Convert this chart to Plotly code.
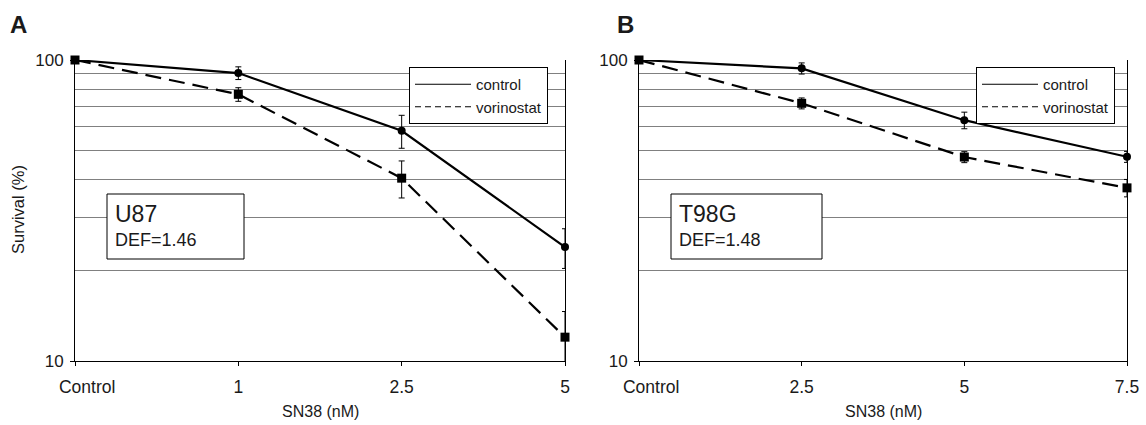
import plotly.graph_objects as go

# ---------------- data ----------------
cats_a = ["Control", "1", "2.5", "5"]
ctrl_a = [100, 90.5, 58.2, 23.9]
ctrl_a_err = [0, 4.4, 7.3, 3.6]
vor_a = [100, 76.9, 40.5, 12.0]
vor_a_err = [0, 4.0, 5.7, 2.6]

cats_b = ["Control", "2.5", "5", "7.5"]
ctrl_b = [100, 93.8, 63.1, 47.7]
ctrl_b_err = [0, 4.0, 4.0, 2.0]
vor_b = [100, 71.8, 47.6, 37.6]
vor_b_err = [0, 3.0, 2.0, 2.5]

grid_vals = [20, 30, 40, 50, 60, 70, 80, 90, 100]

W, H = 1146, 425
FONT = "Liberation Sans, Arial, Helvetica, sans-serif"
TXT = "#1a1a1a"
PAD = "\u00a0" * 5  # the first category label sits right of its tick in the original


def px(x):
    return x / W


def py(y):
    return 1 - y / H


fig = go.Figure()


def add_panel(cats, c, ce, v, ve, xa, ya, leg):
    fig.add_trace(go.Scatter(
        x=cats, y=c, mode="lines+markers", xaxis=xa, yaxis=ya,
        line=dict(color="black", width=2.2),
        marker=dict(symbol="circle", size=8, color="black"),
        error_y=dict(type="data", array=ce, visible=True, color="black",
                     thickness=1, width=3),
        cliponaxis=False, showlegend=False, hoverinfo="x+y"))
    fig.add_trace(go.Scatter(
        x=cats, y=v, mode="lines+markers", xaxis=xa, yaxis=ya,
        line=dict(color="black", width=2.2, dash="16px,8px"),
        marker=dict(symbol="square", size=9, color="black"),
        error_y=dict(type="data", array=ve, visible=True, color="black",
                     thickness=1, width=3),
        cliponaxis=False, showlegend=False, hoverinfo="x+y"))
    # legend entries (line samples only)
    fig.add_trace(go.Scatter(
        x=[None], y=[None], mode="lines", xaxis=xa, yaxis=ya, name="control",
        line=dict(color="black", width=1), legend=leg))
    fig.add_trace(go.Scatter(
        x=[None], y=[None], mode="lines", xaxis=xa, yaxis=ya, name="vorinostat",
        line=dict(color="black", width=1, dash="6px,4px"), legend=leg))


add_panel(cats_a, ctrl_a, ctrl_a_err, vor_a, vor_a_err, "x", "y", "legend")
add_panel(cats_b, ctrl_b, ctrl_b_err, vor_b, vor_b_err, "x2", "y2", "legend2")

xcommon = dict(
    type="category", range=[0, 3], showline=True, linecolor="black", linewidth=1,
    ticks="outside", ticklen=4, tickcolor="black", showgrid=False,
    tickfont=dict(family=FONT, size=17.5, color=TXT), ticklabelstandoff=6,
    zeroline=False, fixedrange=True, automargin=False,
)
ycommon = dict(
    type="log", range=[1, 2], showline=True, mirror=True, linecolor="black",
    linewidth=1, ticks="outside", ticklen=4, tickcolor="black",
    tickmode="array", tickvals=[10, 100], ticktext=["10", "100"],
    showgrid=False,
    minor=dict(tickmode="array", tickvals=grid_vals, showgrid=True,
               gridcolor="#808080", gridwidth=1, ticks=""),
    tickfont=dict(family=FONT, size=17, color=TXT), ticklabelstandoff=3,
    zeroline=False, fixedrange=True, automargin=False,
)

legcommon = dict(
    bgcolor="white", bordercolor="black", borderwidth=1,
    font=dict(family=FONT, size=15, color=TXT),
    xanchor="left", yanchor="top", tracegroupgap=0, itemwidth=56,
)

fig.update_layout(
    width=W, height=H,
    margin=dict(l=0, r=0, t=0, b=0, pad=0, autoexpand=False),
    paper_bgcolor="white", plot_bgcolor="white",
    xaxis=dict(domain=[px(75), px(565)], anchor="y",
               tickmode="array", tickvals=cats_a,
               ticktext=[PAD + cats_a[0]] + cats_a[1:], **xcommon),
    yaxis=dict(domain=[py(361), py(60)], anchor="x", **ycommon),
    xaxis2=dict(domain=[px(639), px(1127)], anchor="y2",
                tickmode="array", tickvals=cats_b,
                ticktext=[PAD + cats_b[0]] + cats_b[1:], **xcommon),
    yaxis2=dict(domain=[py(361), py(60)], anchor="x2", **ycommon),
    legend=dict(x=px(409), y=py(67), **legcommon),
    legend2=dict(x=px(976), y=py(67), **legcommon),
)

ann = []
# panel letters
ann.append(dict(text="<b>A</b>", x=px(18), y=py(24), xref="paper", yref="paper",
                showarrow=False, font=dict(family=FONT, size=24, color=TXT),
                xanchor="center", yanchor="middle"))
ann.append(dict(text="<b>B</b>", x=px(625), y=py(24), xref="paper", yref="paper",
                showarrow=False, font=dict(family=FONT, size=24, color=TXT),
                xanchor="center", yanchor="middle"))
# axis titles
ann.append(dict(text="Survival (%)", x=px(18), y=py(210), xref="paper", yref="paper",
                showarrow=False, textangle=-90,
                font=dict(family=FONT, size=16.5, color=TXT),
                xanchor="center", yanchor="middle"))
for cx in (320, 883):
    ann.append(dict(text="SN38 (nM)", x=px(cx), y=py(411), xref="paper", yref="paper",
                    showarrow=False, font=dict(family=FONT, size=16, color=TXT),
                    xanchor="center", yanchor="middle"))

# cell-line boxes
shapes = []
for (x0, x1, name, defv) in ((107, 244, "U87", "DEF=1.46"), (671, 822, "T98G", "DEF=1.48")):
    shapes.append(dict(type="rect", xref="paper", yref="paper",
                       x0=px(x0), x1=px(x1), y0=py(259), y1=py(194),
                       fillcolor="white", line=dict(color="black", width=1),
                       layer="above"))
    ann.append(dict(text=name, x=px(x0 + 6), y=py(214), xref="paper", yref="paper",
                    showarrow=False, font=dict(family=FONT, size=23, color=TXT),
                    xanchor="left", yanchor="middle"))
    ann.append(dict(text=defv, x=px(x0 + 6), y=py(240), xref="paper", yref="paper",
                    showarrow=False, font=dict(family=FONT, size=18, color=TXT),
                    xanchor="left", yanchor="middle"))

fig.update_layout(annotations=ann, shapes=shapes)

fig.write_html(
    "out.html",
    config={"displayModeBar": False},
    post_script="document.body.style.margin='0';"
                "document.documentElement.style.overflow='hidden';"
                "document.body.style.overflow='hidden';",
)
